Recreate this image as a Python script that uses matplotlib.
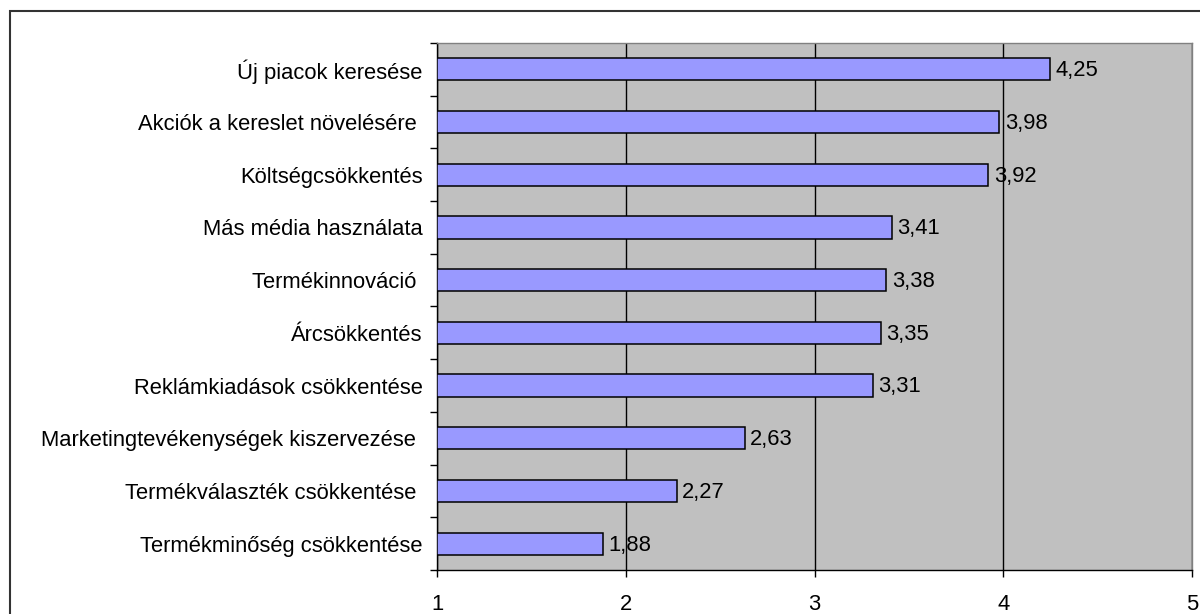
import matplotlib.pyplot as plt
from matplotlib.patches import Rectangle
from matplotlib.ticker import FixedLocator

# Válságkezelési lépések átlagos értékelése (1-5 skála)
categories = [
    "Új piacok keresése",
    "Akciók a kereslet növelésére ",
    "Költségcsökkentés",
    "Más média használata",
    "Termékinnováció ",
    "Árcsökkentés",
    "Reklámkiadások csökkentése",
    "Marketingtevékenységek kiszervezése ",
    "Termékválaszték csökkentése ",
    "Termékminőség csökkentése",
]
values = [4.25, 3.98, 3.92, 3.41, 3.38, 3.35, 3.31, 2.63, 2.27, 1.88]
value_labels = ["4,25", "3,98", "3,92", "3,41", "3,38", "3,35", "3,31", "2,63", "2,27", "1,88"]
x_ticks = [1, 2, 3, 4, 5]

plt.rcParams['font.family'] = ['Liberation Sans', 'DejaVu Sans']
FS = 15.8

fig = plt.figure(figsize=(12, 6.14), dpi=100)
ax = fig.add_axes([437 / 1200, 1 - 570 / 614, 755 / 1200, 527 / 614])

# külső keret a diagram körül
fig.patches.append(Rectangle((10 / 1200, -0.1), 1.2, 1 - 11 / 614 + 0.1,
                             transform=fig.transFigure, fill=False,
                             edgecolor='#333333', linewidth=1.5))

ypos = list(range(len(categories)))
ax.barh(ypos, [v - 1 for v in values], left=1, height=0.42,
        color='#9999FF', edgecolor='black', linewidth=1.1, zorder=3)

for y, v, lab in zip(ypos, values, value_labels):
    ax.annotate(lab, (v, y), xytext=(4, -1), textcoords='offset points',
                ha='left', va='center', fontsize=FS, zorder=4)

ax.set_facecolor('#C0C0C0')
ax.set_xlim(1, 5)
ax.set_ylim(len(categories) - 0.5, -0.5)
ax.set_xticks(x_ticks)
ax.set_xticklabels([str(t) for t in x_ticks], fontsize=FS)
ax.set_yticks(ypos)
ax.set_yticklabels(categories, fontsize=FS)
ax.yaxis.set_minor_locator(FixedLocator([i - 0.5 for i in range(len(categories) + 1)]))
ax.tick_params(axis='y', which='major', length=0, pad=10.5)
ax.tick_params(axis='y', which='minor', length=5, width=1, direction='out')
ax.tick_params(axis='x', length=5, width=1, direction='out', pad=12)

ax.xaxis.grid(True, color='black', linewidth=1)
ax.set_axisbelow(True)

ax.spines['top'].set_color('#808080')
ax.spines['right'].set_color('#808080')
ax.spines['left'].set_color('black')
ax.spines['bottom'].set_color('black')
for s in ax.spines.values():
    s.set_linewidth(1)

fig.savefig('out.png', dpi=100)
